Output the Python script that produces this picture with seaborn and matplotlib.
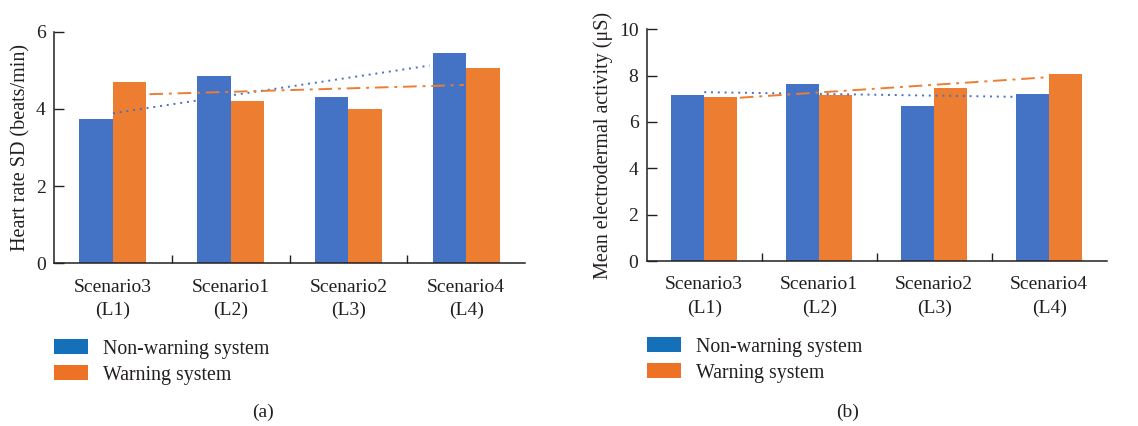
import numpy as np
import pandas as pd
import matplotlib
matplotlib.use("Agg")
import matplotlib.pyplot as plt
import seaborn as sns
from matplotlib.patches import Patch

# ---- data ----
categories = ["Scenario3\n(L1)", "Scenario1\n(L2)", "Scenario2\n(L3)", "Scenario4\n(L4)"]
series_names = ["Non-warning system", "Warning system"]
hr_nonwarning = [3.73, 4.84, 4.30, 5.44]
hr_warning = [4.69, 4.21, 3.99, 5.06]
eda_nonwarning = [7.15, 7.64, 6.69, 7.22]
eda_warning = [7.06, 7.17, 7.47, 8.06]
hr_yticks = [0, 2, 4, 6]
eda_yticks = [0, 2, 4, 6, 8, 10]

sns.set_theme(style="ticks")
plt.rcParams["font.family"] = ["Liberation Serif", "DejaVu Serif"]
plt.rcParams["text.color"] = "#231f20"
plt.rcParams["axes.labelcolor"] = "#231f20"
plt.rcParams["xtick.color"] = "#231f20"
plt.rcParams["ytick.color"] = "#231f20"

BLUE = "#4472C4"
ORANGE = "#ED7D31"
LEG_BLUE = "#1570BA"
LEG_ORANGE = "#EE7226"

fig = plt.figure(figsize=(11.38, 4.26), dpi=100)
ax1 = fig.add_axes([0.0475, 0.3819, 0.4139, 0.5437])
ax2 = fig.add_axes([0.5683, 0.3873, 0.4042, 0.5439])


def make_df(a, b):
    return pd.DataFrame({
        "cat": categories * 2,
        "series": [series_names[0]] * 4 + [series_names[1]] * 4,
        "value": list(a) + list(b),
    })


def draw(ax, a, b, yticks, ylabel):
    df = make_df(a, b)
    sns.barplot(data=df, x="cat", y="value", hue="series", order=categories,
                hue_order=series_names, palette=[BLUE, ORANGE], width=0.57,
                dodge=True, saturation=1, legend=False, ax=ax, linewidth=0)
    xs = np.arange(len(categories))
    pb = np.polyfit(xs, a, 1)
    po = np.polyfit(xs, b, 1)
    xb = np.array([0.0, 2.69])
    xo = np.array([0.31, 2.98])
    ax.plot(xb, np.polyval(pb, xb), ls=(0, (1, 2.5)), color=BLUE, lw=1.4)
    ax.plot(xo, np.polyval(po, xo), ls=(0, (7, 3, 1.5, 3)), color=ORANGE, lw=1.4)
    ax.set_xlim(-0.5, 3.5)
    ax.set_ylim(yticks[0], yticks[-1])
    ax.set_yticks(yticks)
    ax.set_xticks(xs)
    ax.set_xticklabels(categories, linespacing=1.45)
    ax.set_xticks([0.5, 1.5, 2.5], minor=True)
    ax.tick_params(axis="x", which="major", length=0, labelsize=14, pad=11)
    ax.tick_params(axis="x", which="minor", direction="in", length=6, width=1)
    ax.tick_params(axis="y", direction="in", length=7, width=1, labelsize=14, pad=6)
    ax.set_xlabel("")
    ax.set_ylabel(ylabel, fontsize=14.5, labelpad=4)
    for s in ["top", "right"]:
        ax.spines[s].set_visible(False)
    for s in ["left", "bottom"]:
        ax.spines[s].set_color("#231f20")
        ax.spines[s].set_linewidth(1.1)


draw(ax1, hr_nonwarning, hr_warning, hr_yticks, "Heart rate SD (beats/min)")
draw(ax2, eda_nonwarning, eda_warning, eda_yticks, "Mean electrodermal activity (μS)")

handles = [Patch(facecolor=LEG_BLUE, edgecolor="none"),
           Patch(facecolor=LEG_ORANGE, edgecolor="none")]
for x0, y0 in [(54, 339), (647, 337)]:
    fig.legend(handles, series_names, loc="upper left",
               bbox_to_anchor=(x0 / 1138, 1 - y0 / 426), frameon=False,
               borderpad=0, borderaxespad=0, handlelength=1.7, handleheight=0.82,
               handletextpad=0.75, labelspacing=0.32, fontsize=14.3)

fig.text(263 / 1138, 1 - 412 / 426, "(a)", ha="center", va="center", fontsize=14)
fig.text(848 / 1138, 1 - 412 / 426, "(b)", ha="center", va="center", fontsize=14)

fig.savefig("out.png", dpi=100)
